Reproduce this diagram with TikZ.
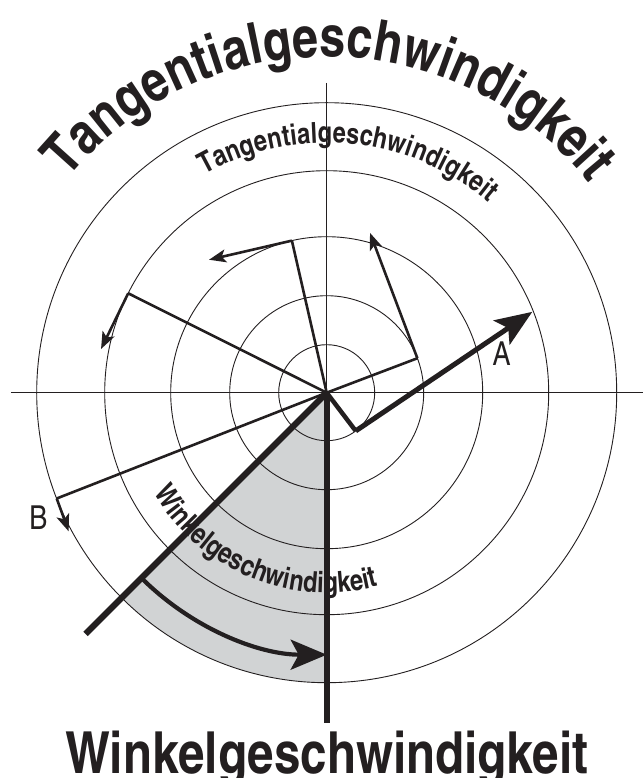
\documentclass[tikz,border=0pt]{standalone}
\usepackage{fontspec}
\usepackage{tikz}
\usetikzlibrary{arrows.meta,calc,decorations.text}
\newfontfamily\cnbold{texgyreheroscn-bold.otf}
\newfontfamily\cnreg{texgyreheroscn-regular.otf}
\definecolor{inkblack}{RGB}{35,31,32}
\definecolor{sectorgray}{RGB}{209,211,212}
\tikzset{
  ring/.style={draw=inkblack, line width=0.9pt},
  axisline/.style={draw=inkblack, line width=0.9pt},
  spoke/.style={draw=inkblack, line width=2.6pt},
  vecline/.style={-{Stealth[length=17pt,width=13pt,inset=4pt]}, draw=inkblack, line width=2.6pt},
  bigvec/.style={-{Stealth[length=37pt,width=29pt,inset=8pt]}, draw=inkblack, line width=5pt},
  turnarrow/.style={-{Stealth[length=36pt,width=30pt,inset=8pt]}, draw=inkblack, line width=4.2pt},
  heavyline/.style={draw=inkblack, line width=6.2pt},
  letterlabel/.style={font=\cnreg\fontsize{33pt}{33pt}\selectfont, text=inkblack, inner sep=0pt},
  arctext/.style={decorate, decoration={text along path, text align=center, text color=inkblack}}
}

\begin{document}
\begin{tikzpicture}[x=1pt, y=1pt]
  \useasboundingbox (-326.7,-385.3) rectangle (316.3,392.7);
  \coordinate (C) at (0,0);

  \fill[sectorgray] (C) -- (225:290) arc[start angle=225, end angle=270, radius=290pt] -- cycle;
  \foreach \r in {48,97,156,222,290}
    \draw[ring] (C) circle[radius=\r pt];
  \coordinate (hleft) at (-315.7,0);
  \coordinate (hright) at (316.3,0);
  \coordinate (vtop) at (0,309.7);
  \draw[axisline] (hleft) -- (hright);
  \draw[axisline] (vtop) -- (C);

  \coordinate (diagend) at (225:341);
  \coordinate (vertend) at (0,-330.6);
  \draw[heavyline] (C) -- (diagend);
  \draw[heavyline] (C) -- (vertend);
  \coordinate (arcstart) at (225:262);
  \draw[turnarrow] (arcstart) arc[start angle=225, end angle=270, radius=262pt];

  \coordinate (P1) at (102.9:156);
  \coordinate (T1) at ($(P1)+(193:85)$);
  \coordinate (P2) at (20.8:97);
  \coordinate (T2) at ($(P2)+(110.7:134)$);
  \coordinate (P3) at (153.4:222);
  \coordinate (T3) at ($(P3)+(244:62)$);
  \coordinate (P4) at (201.4:290);
  \coordinate (T4) at ($(P4)+(290:35)$);
  \coordinate (P5) at (-52.8:48);
  \coordinate (T5) at ($(P5)+(34:213)$);
  \draw[spoke] (C) -- (P1);
  \draw[vecline] (P1) -- (T1);
  \draw[spoke] (C) -- (P2);
  \draw[vecline] (P2) -- (T2);
  \draw[spoke] (C) -- (P3);
  \draw[vecline] (P3) -- (T3);
  \draw[spoke] (C) -- (P4);
  \draw[vecline] (P4) -- (T4);
  \draw[spoke, line width=4.5pt] (C) -- (P5);
  \draw[bigvec] (P5) -- (T5);

  \node[letterlabel] (labelA) at (175,39.4) {A};
  \node[letterlabel] (labelB) at (-288.4,-124.6) {B};

  \path[arctext, decoration={text={|\cnbold\fontsize{57pt}{57pt}\selectfont|Tangentialgeschwindigkeit}}]
    (152:336) arc[start angle=152, end angle=27, radius=336pt];
  \path[arctext, decoration={text={|\cnbold\fontsize{29pt}{29pt}\selectfont|Tangentialgeschwindigkeit}}]
    (125:250) arc[start angle=125, end angle=44, radius=250pt];
  \path[arctext, decoration={text={|\cnbold\fontsize{29pt}{29pt}\selectfont|Winkelgeschwindigkeit}}]
    (205:200) arc[start angle=205, end angle=290, radius=200pt];

  \node[anchor=base, inner sep=0pt, text=inkblack, font=\cnbold\fontsize{58pt}{58pt}\selectfont] (bigtitle) at (0,-380.3) {Winkelgeschwindigkeit};
\end{tikzpicture}
\end{document}
